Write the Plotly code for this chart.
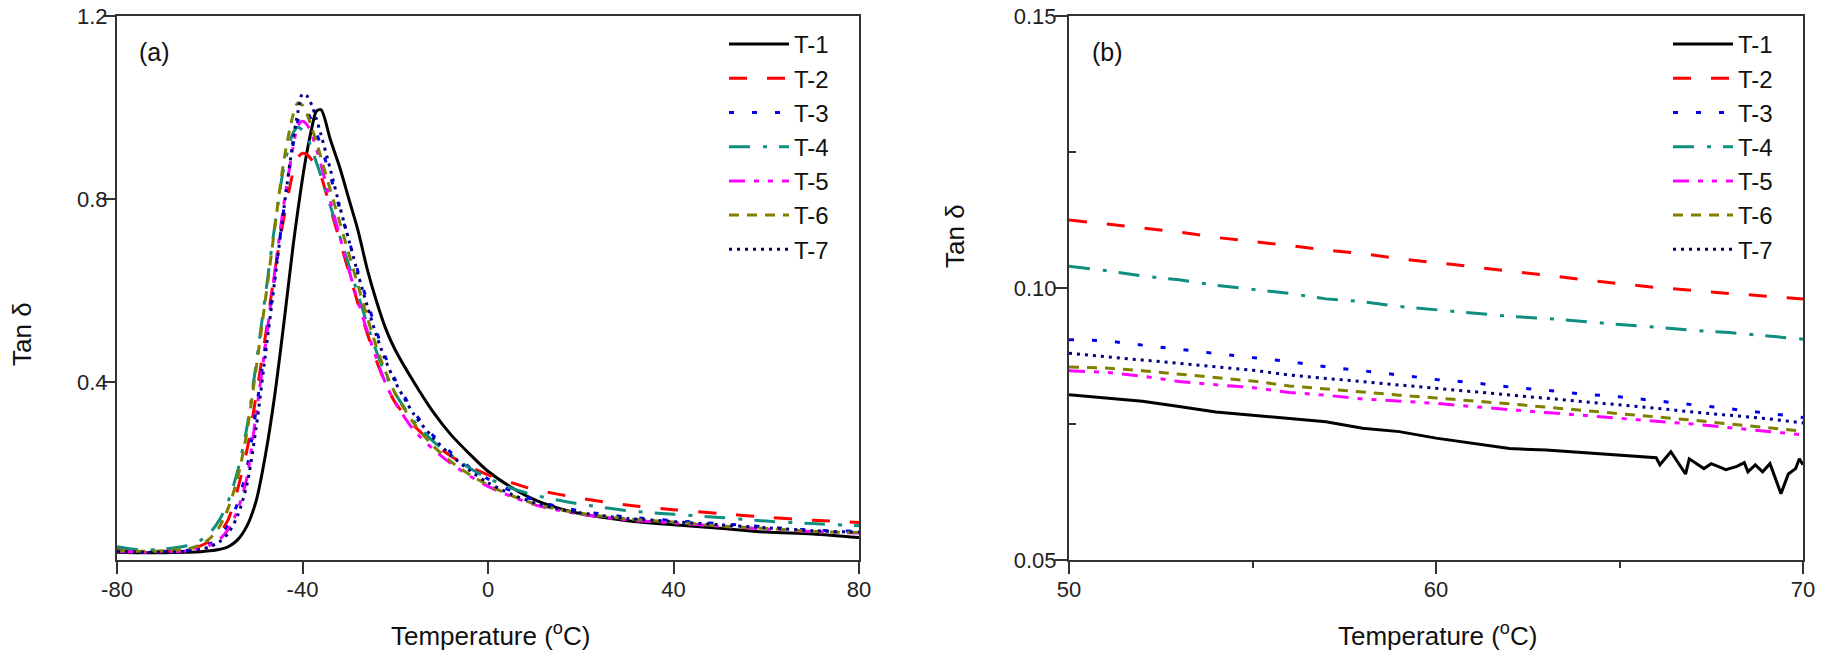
import plotly.graph_objects as go

# ---------------- data ----------------
names = ["T-1", "T-2", "T-3", "T-4", "T-5", "T-6", "T-7"]
colors = ["#000000", "#ff0000", "#0000ee", "#0f8f80", "#ff00ff", "#808000", "#000080"]
dashes = ["solid", "18px,20px", "5px,18px", "21px,13px,4px,12px",
          "16px,9px,5px,9px,5px,9px", "10px,8px", "3px,5px"]

# panel (a): full temperature sweep
temp_a = [-80, -75, -70, -65, -62, -60, -58, -56, -54, -52, -50, -48, -46, -44, -42,
          -41, -40, -39, -38, -37, -36, -34, -32, -30, -28, -26, -24, -22, -20,
          -16, -12, -8, -4, 0, 5, 10, 15, 20, 30, 40, 50, 60, 70, 80]

t1_a = [0.028, 0.027, 0.027, 0.028, 0.029, 0.031, 0.034, 0.040, 0.055, 0.085, 0.140, 0.240, 0.370, 0.530, 0.700,
        0.775, 0.845, 0.905, 0.955, 0.992, 0.995, 0.930, 0.870, 0.800, 0.730, 0.645, 0.575, 0.515, 0.470,
        0.400, 0.337, 0.285, 0.243, 0.205, 0.170, 0.143, 0.125, 0.112, 0.097, 0.088, 0.0805, 0.072, 0.068, 0.060]
t2_a = [0.038, 0.030, 0.030, 0.034, 0.042, 0.052, 0.068, 0.100, 0.165, 0.250, 0.370, 0.500, 0.640, 0.760, 0.860,
        0.890, 0.900, 0.897, 0.885, 0.870, 0.850, 0.780, 0.710, 0.640, 0.570, 0.505, 0.445, 0.395, 0.355,
        0.305, 0.268, 0.238, 0.215, 0.197, 0.180, 0.165, 0.155, 0.146, 0.131, 0.121, 0.1125, 0.1047, 0.0980, 0.093]
t3_a = [0.030, 0.028, 0.029, 0.032, 0.038, 0.046, 0.060, 0.088, 0.135, 0.210, 0.340, 0.480, 0.630, 0.780, 0.920,
        0.970, 0.995, 0.990, 0.970, 0.945, 0.915, 0.850, 0.780, 0.710, 0.640, 0.575, 0.510, 0.452, 0.405,
        0.335, 0.285, 0.246, 0.214, 0.188, 0.162, 0.142, 0.128, 0.118, 0.105, 0.097, 0.0905, 0.0832, 0.0762, 0.074]
t4_a = [0.040, 0.033, 0.035, 0.042, 0.054, 0.070, 0.097, 0.140, 0.205, 0.300, 0.440, 0.590, 0.740, 0.870, 0.945,
        0.957, 0.950, 0.935, 0.910, 0.880, 0.850, 0.785, 0.720, 0.655, 0.590, 0.525, 0.465, 0.415, 0.375,
        0.315, 0.272, 0.240, 0.212, 0.190, 0.168, 0.153, 0.142, 0.133, 0.119, 0.111, 0.104, 0.096, 0.0906, 0.086]
t5_a = [0.030, 0.028, 0.029, 0.031, 0.036, 0.043, 0.055, 0.078, 0.120, 0.190, 0.330, 0.480, 0.640, 0.790, 0.915,
        0.960, 0.970, 0.962, 0.940, 0.910, 0.875, 0.795, 0.720, 0.645, 0.575, 0.510, 0.450, 0.395, 0.355,
        0.295, 0.255, 0.222, 0.195, 0.172, 0.150, 0.132, 0.120, 0.111, 0.099, 0.092, 0.0848, 0.0788, 0.0730, 0.070]
t6_a = [0.032, 0.030, 0.031, 0.035, 0.044, 0.058, 0.082, 0.125, 0.190, 0.290, 0.430, 0.580, 0.735, 0.885, 0.985,
        1.010, 1.005, 0.985, 0.955, 0.925, 0.890, 0.820, 0.750, 0.680, 0.610, 0.540, 0.475, 0.420, 0.375,
        0.310, 0.262, 0.226, 0.198, 0.175, 0.152, 0.134, 0.122, 0.113, 0.101, 0.094, 0.0855, 0.0798, 0.0737, 0.071]
t7_a = [0.030, 0.028, 0.028, 0.030, 0.034, 0.040, 0.050, 0.070, 0.108, 0.175, 0.300, 0.460, 0.620, 0.780, 0.930,
        0.990, 1.030, 1.025, 1.005, 0.975, 0.940, 0.865, 0.785, 0.710, 0.635, 0.565, 0.500, 0.445, 0.400,
        0.330, 0.280, 0.240, 0.207, 0.180, 0.155, 0.136, 0.123, 0.114, 0.102, 0.095, 0.088, 0.0816, 0.0752, 0.072]

# panel (b): zoom 50-70 C
temp_b = [50, 51, 52, 53, 54, 55, 56, 57, 58, 59, 60, 61, 62, 63, 64, 65, 66, 67, 68, 69, 70]
temp_b1 = [50, 51, 52, 53, 54, 55, 56, 57, 58, 59, 60, 61, 62, 63, 64, 65, 65.5, 66, 66.1, 66.4, 66.8,
           66.9, 67.3, 67.5, 67.9, 68.2, 68.4, 68.5, 68.7, 68.9, 69.1, 69.4, 69.6, 69.8, 69.9, 70]
t1_b = [0.0804, 0.0798, 0.0792, 0.0782, 0.0772, 0.0766, 0.0760, 0.0754, 0.0742, 0.0736, 0.0724, 0.0715,
        0.0705, 0.0702, 0.0697, 0.0693, 0.0690, 0.0688, 0.0675, 0.0699, 0.0658, 0.0686, 0.0668, 0.0677,
        0.0666, 0.0672, 0.0679, 0.0662, 0.0675, 0.0662, 0.0677, 0.0622, 0.0658, 0.0668, 0.0686, 0.0675]
t2_b = [0.1125, 0.1118, 0.1110, 0.1103, 0.1093, 0.1086, 0.1078, 0.1070, 0.1063, 0.1054, 0.1047, 0.1039,
        0.1031, 0.1023, 0.1016, 0.1008, 0.1001, 0.0995, 0.0990, 0.0985, 0.0980]
t3_b = [0.0905, 0.0903, 0.0895, 0.0887, 0.0880, 0.0872, 0.0865, 0.0855, 0.0848, 0.0840, 0.0832, 0.0826,
        0.0818, 0.0812, 0.0805, 0.0800, 0.0793, 0.0786, 0.0778, 0.0770, 0.0762]
t4_b = [0.1040, 0.1032, 0.1022, 0.1015, 0.1005, 0.0998, 0.0990, 0.0980, 0.0975, 0.0966, 0.0960, 0.0955,
        0.0948, 0.0944, 0.0938, 0.0933, 0.0928, 0.0922, 0.0918, 0.0912, 0.0906]
t5_b = [0.0848, 0.0845, 0.0838, 0.0828, 0.0822, 0.0817, 0.0808, 0.0803, 0.0796, 0.0792, 0.0788, 0.0782,
        0.0776, 0.0771, 0.0766, 0.0760, 0.0755, 0.0750, 0.0743, 0.0736, 0.0730]
t6_b = [0.0855, 0.0853, 0.0848, 0.0842, 0.0836, 0.0829, 0.0820, 0.0814, 0.0808, 0.0803, 0.0798, 0.0793,
        0.0787, 0.0781, 0.0775, 0.0770, 0.0764, 0.0757, 0.0750, 0.0743, 0.0737]
t7_b = [0.0880, 0.0874, 0.0868, 0.0862, 0.0855, 0.0849, 0.0840, 0.0834, 0.0828, 0.0822, 0.0816, 0.0810,
        0.0804, 0.0797, 0.0791, 0.0785, 0.0779, 0.0772, 0.0766, 0.0760, 0.0752]

ticks_a_x = [-80, -40, 0, 40, 80]
ticks_a_x_text = ["-80", "-40", "0", "40", "80"]
ticks_a_y = [0.4, 0.8, 1.2]
ticks_a_y_text = ["0.4", "0.8", "1.2"]
ticks_b_x = [50, 60, 70]
ticks_b_y = [0.05, 0.10, 0.15]
ticks_b_y_text = ["0.05", "0.10", "0.15"]

series_a = [t1_a, t2_a, t3_a, t4_a, t5_a, t6_a, t7_a]
series_b = [t1_b, t2_b, t3_b, t4_b, t5_b, t6_b, t7_b]
temps_b = [temp_b1] + [temp_b] * 6

# ---------------- figure ----------------
# the page's body margin is removed (see post_script), so placements are in
# screen pixels of the 1831x654 window.
OFF = 0
W, H = 1831 - OFF, 654 - OFF
FONT = "Liberation Sans, Arial, sans-serif"


def fx(px):
    return (px - OFF) / W


def fy(py):
    return 1 - (py - OFF) / H


fig = go.Figure()
for i in range(7):
    fig.add_trace(go.Scatter(x=temp_a, y=series_a[i], mode="lines", name=names[i],
                             line=dict(color=colors[i], width=3, dash=dashes[i],
                                       shape="spline", smoothing=0.8),
                             xaxis="x", yaxis="y", legend="legend"))
for i in range(7):
    fig.add_trace(go.Scatter(x=temps_b[i], y=series_b[i], mode="lines", name=names[i],
                             line=dict(color=colors[i], width=3, dash=dashes[i]),
                             xaxis="x2", yaxis="y2", legend="legend2"))

ydom = [fy(560), fy(16)]
axis_common = dict(showline=True, linecolor="#333333", linewidth=2, mirror=True,
                   ticks="outside", ticklen=12, tickwidth=2, tickcolor="#333333",
                   showgrid=False, zeroline=False, automargin=False,
                   ticklabeloverflow="allow",
                   tickfont=dict(family=FONT, size=22, color="#222222"))

fig.update_layout(
    width=W, height=H,
    margin=dict(l=0, r=0, t=0, b=0, pad=0, autoexpand=False),
    paper_bgcolor="white", plot_bgcolor="white",
    font=dict(family=FONT, color="#111111"),
    xaxis=dict(domain=[fx(117), fx(859)], range=[-80, 80], tickvals=ticks_a_x,
               ticktext=ticks_a_x_text, anchor="y", ticklabelstandoff=-3, **axis_common),
    yaxis=dict(domain=ydom, range=[0.011, 1.2], tickvals=ticks_a_y, ticktext=ticks_a_y_text,
               anchor="x", ticklabelstandoff=-9, **axis_common),
    xaxis2=dict(domain=[fx(1069), fx(1803)], range=[50, 70], tickvals=ticks_b_x,
                anchor="y2", ticklabelstandoff=-3,
                minor=dict(tickvals=[55, 65], ticks="outside", ticklen=6, tickwidth=2,
                           tickcolor="#333333"),
                **axis_common),
    yaxis2=dict(domain=ydom, range=[0.05, 0.15], tickvals=ticks_b_y, ticktext=ticks_b_y_text,
                anchor="x2", ticklabelstandoff=-6,
                minor=dict(tickvals=[0.075, 0.125], ticks="inside", ticklen=7, tickwidth=2,
                           tickcolor="#333333"),
                **axis_common),
    legend=dict(x=fx(724), y=fy(22), xanchor="left", yanchor="top",
                bgcolor="rgba(0,0,0,0)", font=dict(family=FONT, size=24, color="#111111"),
                itemwidth=60),
    legend2=dict(x=fx(1668), y=fy(22), xanchor="left", yanchor="top",
                 bgcolor="rgba(0,0,0,0)", font=dict(family=FONT, size=24, color="#111111"),
                 itemwidth=60),
    showlegend=True,
)

ann_font = dict(family=FONT, size=26, color="#111111")
fig.add_annotation(text="Tan δ", x=fx(22), y=fy(334), xref="paper", yref="paper",
                   xanchor="center", yanchor="middle",
                   textangle=-90, showarrow=False, font=ann_font)
fig.add_annotation(text="Tan δ", x=fx(955), y=fy(236), xref="paper", yref="paper",
                   xanchor="center", yanchor="middle",
                   textangle=-90, showarrow=False, font=ann_font)
fig.add_annotation(text="Temperature (<sup>o</sup>C)", x=fx(490), y=fy(634),
                   xref="paper", yref="paper", xanchor="center", yanchor="middle",
                   showarrow=False, font=ann_font)
fig.add_annotation(text="Temperature (<sup>o</sup>C)", x=fx(1437), y=fy(634),
                   xref="paper", yref="paper", xanchor="center", yanchor="middle",
                   showarrow=False, font=ann_font)
fig.add_annotation(text="(a)", x=fx(137), y=fy(52), xref="paper", yref="paper",
                   xanchor="left", yanchor="middle", showarrow=False,
                   font=dict(family=FONT, size=25, color="#111111"))
fig.add_annotation(text="(b)", x=fx(1090), y=fy(52), xref="paper", yref="paper",
                   xanchor="left", yanchor="middle", showarrow=False,
                   font=dict(family=FONT, size=25, color="#111111"))

fig.write_html("out.html", config={"displayModeBar": False},
               post_script="document.body.style.margin='0px';document.body.style.overflow='hidden';")
